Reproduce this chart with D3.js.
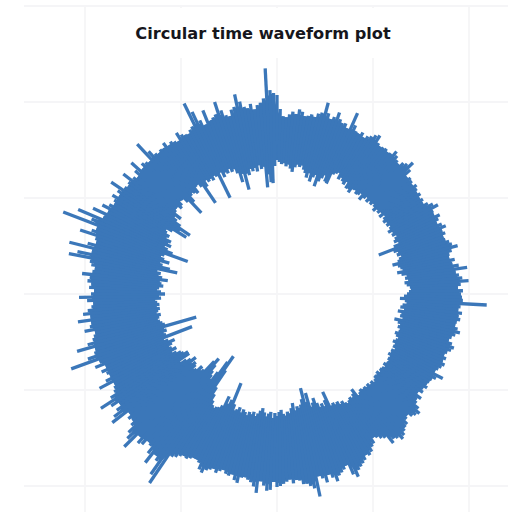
<!DOCTYPE html>
<html>
<head>
<meta charset="utf-8">
<script src="https://cdn.jsdelivr.net/npm/d3@7"></script>
<style>
  body { margin: 0; background: #fff; }
</style>
</head>
<body>
<div id="chart"></div>
<script>
// amplitude envelope, one value per degree (clockwise from top)
const outer = [
  199,185,178,177,180,183,181,186,184,180,
  181,183,181,185,187,198,188,183,186,192,
  186,183,184,180,198,186,181,180,183,179,
  182,184,187,189,182,180,181,182,180,181,
  186,183,180,178,182,184,189,182,175,177,
  176,174,177,175,173,175,172,174,172,176,
  180,184,177,176,181,178,175,179,182,177,
  179,176,177,180,182,187,180,177,176,181,
  178,184,192,180,183,186,192,184,181,186,
  184,185,186,210,184,182,186,183,185,182,
  181,184,187,183,180,178,182,185,183,180,
  178,181,179,182,180,178,176,186,180,177,
  176,175,177,174,176,172,178,175,177,182,
  186,184,182,178,180,184,185,187,190,192,
  188,186,189,180,178,175,173,178,180,184,
  186,184,188,190,192,194,200,196,185,188,
  190,192,197,192,188,195,190,187,207,198,
  195,192,192,188,187,190,186,188,190,192,
  193,188,196,197,192,188,200,194,190,188,
  186,187,193,191,186,188,187,184,186,189,
  186,188,190,194,192,186,184,184,186,188,
  187,189,192,194,228,220,206,202,214,205,
  198,196,202,204,198,216,208,203,196,192,
  194,190,209,204,198,192,200,210,196,190,
  188,186,201,192,186,188,192,186,196,190,
  219,200,192,190,208,196,190,188,186,196,
  190,188,201,188,195,190,186,184,190,198,
  186,183,188,186,190,188,196,186,184,188,
  190,212,204,190,214,196,188,190,207,196,
  192,229,200,216,190,203,188,196,190,186,
  188,192,186,190,200,186,184,186,195,185,
  182,188,196,184,188,186,184,205,192,186,
  184,186,185,189,184,186,184,182,190,186,
  184,183,186,188,212,201,190,184,198,186,
  188,190,202,192,186,184,190,192,204,196,
  190,188,192,186,190,192,196,226,204,201
];
const inner = [
  134,132,130,131,128,130,126,123,128,131,
  129,131,127,124,120,125,117,122,125,114,
  120,124,128,122,121,132,134,136,130,133,
  130,128,132,126,127,124,129,130,127,128,
  131,125,129,132,128,131,129,132,130,127,
  131,129,132,128,133,130,128,131,129,132,
  130,127,131,129,133,130,128,132,126,109,
  124,128,126,130,127,125,119,124,126,128,
  122,126,131,129,132,128,130,133,134,132,
  130,127,123,128,130,126,124,128,122,126,
  125,128,120,124,127,125,128,127,124,126,
  129,127,125,128,127,130,127,128,126,129,
  128,130,129,127,130,128,127,129,126,128,
  127,129,131,128,130,127,129,127,128,126,
  128,130,121,125,128,126,128,130,128,125,
  127,123,125,122,124,108,116,122,118,121,
  116,110,114,118,103,112,97,108,113,116,
  114,118,110,115,120,118,122,120,116,118,
  122,119,124,118,120,123,119,115,118,121,
  124,120,123,121,125,122,120,124,119,122,
  124,118,96,115,120,113,124,127,128,130,
  128,124,118,111,92,76,84,98,108,104,
  100,94,87,92,105,108,104,110,112,108,
  106,110,103,108,112,118,106,106,110,112,
  116,120,114,118,120,116,112,118,122,91,
  118,120,116,118,84,116,118,120,122,120,
  118,122,120,118,121,118,120,122,116,118,
  112,116,120,118,114,116,118,110,116,120,
  118,122,102,110,118,121,112,118,122,119,
  95,112,118,122,116,120,118,124,122,126,
  128,122,107,116,105,118,124,128,122,130,
  132,132,128,130,134,133,128,111,124,130,
  132,130,128,134,135,131,110,128,134,131,
  133,130,134,132,107,134,128,132,130,134,
  130,132,127,117,125,108,124,122,128,125,
  128,124,130,126,128,107,120,112,111,128
];
const gridX = [-192, -96, 0, 96, 192];
const gridY = [-288, -192, -96, 0, 96, 192];
const title = "Circular time waveform plot";

const width = 508, height = 512;
const svg = d3.select("#chart").append("svg")
  .attr("width", width)
  .attr("height", height);

const x = d3.scaleLinear().domain([-192, 192]).range([85, 469]);
const y = d3.scaleLinear().domain([-192, 192]).range([102, 486]);
const angle = d3.scaleLinear().domain([0, 360]).range([0, 2 * Math.PI]);
const radius = d3.scaleLinear().domain([0, 192]).range([0, 192]);

svg.selectAll("line.gx")
  .data(gridX)
  .enter()
  .append("line")
  .attr("class", "gx")
  .attr("x1", d => x(d)).attr("x2", d => x(d))
  .attr("y1", y(-288)).attr("y2", height)
  .style("stroke", "#f5f5f7")
  .style("stroke-width", 1.8);

svg.selectAll("line.gy")
  .data(gridY)
  .enter()
  .append("line")
  .attr("class", "gy")
  .attr("x1", 24).attr("x2", width)
  .attr("y1", d => y(d)).attr("y2", d => y(d))
  .style("stroke", "#f5f5f7")
  .style("stroke-width", 1.8);

// white box behind the title hides the inner grid lines
svg.append("rect")
  .attr("x", 110)
  .attr("y", 8)
  .attr("width", 340)
  .attr("height", 50)
  .style("fill", "#fff");

// solid core so no hairlines show between the strokes
const n = outer.length;
const near = (arr, i) => [arr[(i + n - 1) % n], arr[i], arr[(i + 1) % n]];
const core = d3.areaRadial()
  .angle((d, i) => angle(i))
  .innerRadius((d, i) => radius(d3.max(near(inner, i))))
  .outerRadius((d, i) => radius(d3.min(near(outer, i))))
  .curve(d3.curveLinearClosed);

svg.append("path")
  .datum(outer)
  .attr("transform", `translate(${x(0)},${y(0)})`)
  .attr("d", core)
  .style("fill", "#3b77b9");

// one thick radial stroke per sample
svg.selectAll("line.wave")
  .data(outer)
  .enter()
  .append("line")
  .attr("class", "wave")
  .attr("x1", (d, i) => x(inner[i] * Math.sin(angle(i))))
  .attr("y1", (d, i) => y(-inner[i] * Math.cos(angle(i))))
  .attr("x2", (d, i) => x(d * Math.sin(angle(i))))
  .attr("y2", (d, i) => y(-d * Math.cos(angle(i))))
  .style("stroke", "#3b77b9")
  .style("stroke-width", 3.3);

svg.append("text")
  .attr("x", 263)
  .attr("y", 39)
  .attr("text-anchor", "middle")
  .style("font-family", "'DejaVu Sans', sans-serif")
  .style("font-weight", 700)
  .style("font-size", "16.2px")
  .style("fill", "#16161c")
  .text(title);
</script>
</body>
</html>
